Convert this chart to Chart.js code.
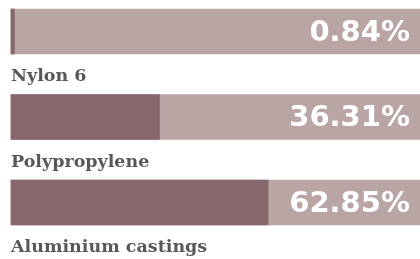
<!DOCTYPE html>
<html>
<head>
<meta charset="utf-8">
<script src="https://cdn.jsdelivr.net/npm/chart.js@4.4.1/dist/chart.umd.min.js"></script>
<style>
  html, body { margin: 0; padding: 0; background: #fff; }
  #wrap { width: 420px; height: 259px; position: relative; }
</style>
</head>
<body>
<div id="wrap"><canvas id="chart"></canvas></div>
<script>
const categories = ['Nylon 6', 'Polypropylene', 'Aluminium castings'];
const shares = [0.84, 36.31, 62.85];
const track = [100, 100, 100];

const darkFill = '#86686c';
const lightFill = '#baa5a5';

// draws the percentage inside each bar and the material name under it
const barText = {
    id: 'barText',
    afterDatasetsDraw(chart) {
        const ctx = chart.ctx;
        const area = chart.chartArea;
        const meta = chart.getDatasetMeta(0);
        ctx.save();
        meta.data.forEach((bar, i) => {
            const half = bar.height / 2;
            ctx.fillStyle = '#ffffff';
            ctx.font = 'bold 29px "DejaVu Sans"';
            ctx.textAlign = 'right';
            ctx.textBaseline = 'alphabetic';
            ctx.fillText(shares[i].toFixed(2) + '%', area.right - 10, bar.y + 9);

            ctx.fillStyle = '#58585a';
            ctx.font = 'bold 17.5px "DejaVu Serif"';
            ctx.textAlign = 'left';
            ctx.fillText(categories[i], area.left, bar.y + half + 27);
        });
        ctx.restore();
    }
};

new Chart(document.getElementById('chart').getContext('2d'), {
    type: 'bar',
    data: {
        labels: categories,
        datasets: [{
            label: 'share',
            data: shares,
            backgroundColor: darkFill,
            barThickness: 45,
            grouped: false,
            order: 1,
            clip: false
        }, {
            label: 'track',
            data: track,
            backgroundColor: lightFill,
            barThickness: 45,
            grouped: false,
            order: 2,
            clip: false
        }]
    },
    options: {
        indexAxis: 'y',
        responsive: true,
        maintainAspectRatio: false,
        animation: false,
        layout: { padding: { left: 11, right: 0, top: 31.5, bottom: 56.5 } },
        scales: {
            x: { display: false, min: 0, max: 100 },
            y: { display: false, offset: false }
        },
        plugins: { legend: { display: false }, tooltip: { enabled: false } }
    },
    plugins: [barText]
});
</script>
</body>
</html>
